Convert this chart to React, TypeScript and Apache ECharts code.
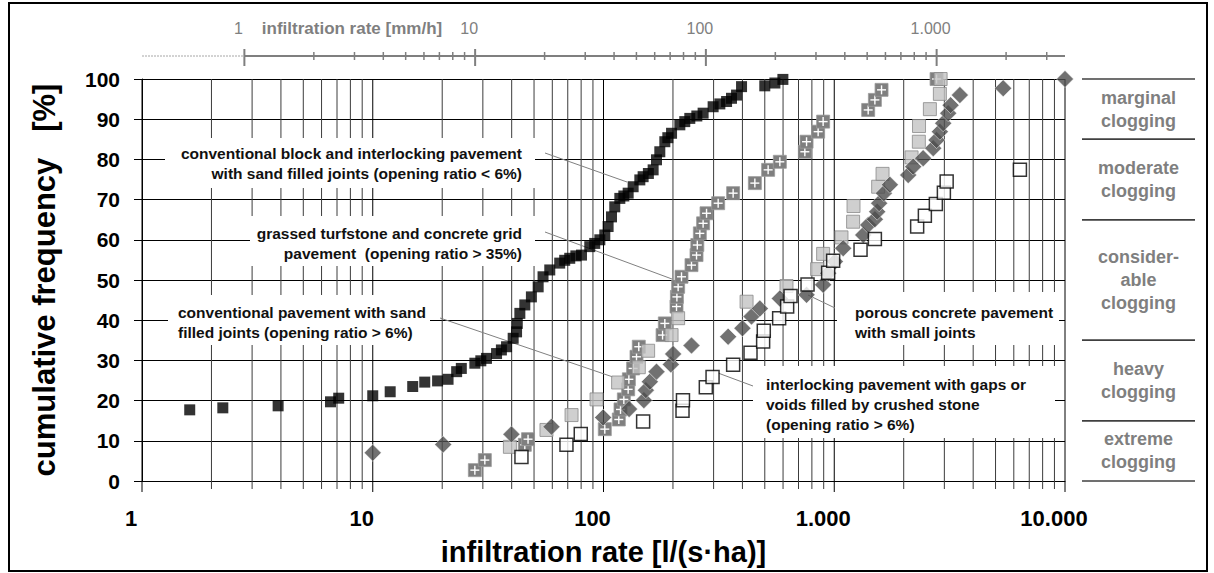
import React, { useEffect, useRef } from 'react';
import * as echarts from 'echarts';

// 1 mm/h expressed in l/(s·ha)
const MMH_FACTOR = 10000 / 3600;

// conventional block and interlocking pavement, sand filled joints (< 6 %)
const blockSandJoints: [number, number][] = [
  [1.61, 17.7], [2.24, 18.2], [3.89, 18.7], [6.56, 19.7], [7.12, 20.6], [10.0, 21.2],
  [11.9, 22.2], [14.9, 23.5], [16.8, 24.6], [19.1, 24.9], [21.2, 25.3], [23.1, 27.2],
  [24.2, 28.0], [27.7, 29.3], [29.4, 29.9], [31.1, 30.5], [34.4, 31.7], [36.1, 32.6],
  [38.0, 33.4], [40.6, 35.5], [42.0, 37.1], [42.3, 39.2], [43.4, 41.7], [45.6, 43.8],
  [48.7, 45.8], [52.1, 48.3], [54.7, 50.8], [58.5, 52.5], [64.6, 54.2], [67.9, 54.9],
  [71.4, 55.4], [75.9, 56.0], [80.3, 56.2], [87.2, 58.3], [91.6, 59.1], [96.4, 60.0],
  [101.3, 61.2], [104.7, 63.3], [108.3, 65.7], [111.9, 68.2], [117.7, 70.3], [122.5, 70.9],
  [127.9, 71.6], [134.4, 73.2], [143.7, 74.9], [148.5, 75.7], [156.5, 76.5], [164.1, 77.4],
  [169.7, 79.9], [175.4, 81.9], [184.4, 84.4], [190, 85.4], [197.2, 86.5], [214.2, 88.6],
  [225, 89.4], [236.6, 90.2], [253.8, 90.8], [270.2, 91.5], [298.6, 93.1], [319.3, 93.8],
  [341.5, 94.4], [358.7, 95.2], [377.2, 96.0], [396.5, 98.1], [500, 98.3], [553, 99.0],
  [599, 99.9],
];

// grassed turfstone and concrete grid pavement (> 35 %)
const grassedTurfstone: [number, number][] = [
  [27.7, 2.7], [30.6, 5.2], [45.6, 9.0], [47.1, 10.4], [101.3, 12.9], [116.5, 15.3],
  [118.5, 17.8], [122.5, 20.3], [127.9, 22.8], [128.8, 25.3], [134.4, 28.0], [139.0, 30.9],
  [142.2, 33.4], [180.3, 36.3], [184.4, 39.2], [207.2, 43.4], [208, 45.8], [210.6, 48.3],
  [217.8, 50.8], [240.6, 53.7], [253, 56.2], [255, 58.7], [261.5, 61.6], [270.2, 64.1],
  [279.6, 66.6], [314, 69.1], [364.6, 71.6], [452.8, 74.1], [517, 77.4], [581, 79.4],
  [745.7, 81.9], [758.5, 84.4], [851.5, 86.9], [895, 89.4], [1403, 92.3], [1500, 94.8],
  [1603, 97.3], [2776, 100],
];

// conventional pavement with sand filled joints (> 6 %)
const conventionalSandJoints: [number, number][] = [
  [39.3, 8.5], [56.6, 12.7], [72.7, 16.4], [93.3, 20.3], [115.7, 24.5], [142.2, 28.3],
  [156.1, 32.4], [197.2, 36.3], [210.6, 40.5], [416.9, 44.6], [621, 48.5], [843, 52.7],
  [895, 56.5], [1075, 60.6], [1207, 64.5], [1212, 68.4], [1550, 73.2], [1619, 76.4],
  [2163, 80.5], [2326, 84.4], [2330, 88.3], [2597, 92.5], [2869, 96.3], [2890, 100],
];

// porous concrete pavement with small joints
const porousConcrete: [number, number][] = [
  [10.0, 7.0], [20.2, 9.1], [39.9, 11.6], [59.5, 13.5], [99.6, 15.8], [129.1, 17.9],
  [149.6, 20.1], [152.6, 22.6], [158.8, 24.7], [169.7, 27.2], [195.8, 29.0], [200.3, 31.6],
  [240.6, 33.7], [346.8, 35.9], [400, 38.0], [437.9, 40.9], [475.9, 42.9], [581, 45.4],
  [758.5, 46.3], [895, 48.8], [941, 51.7], [1006, 54.6], [1093, 57.9], [1335, 61.2],
  [1403, 63.7], [1500, 65.1], [1535, 67.0], [1565, 69.1], [1641, 71.6], [1742, 73.7],
  [2091, 76.1], [2198, 78.2], [2428, 80.3], [2684, 82.8], [2776, 84.8], [2869, 86.9],
  [2965, 89.0], [3117, 91.5], [3193, 93.5], [3503, 96.0], [5397, 97.7], [10000, 100],
];

// interlocking pavement, gaps or voids filled by crushed stone (> 6 %)
const crushedStoneJoints: [number, number][] = [
  [44.1, 6.0], [69.1, 9.0], [79.7, 11.7], [148.5, 14.8], [220, 17.5], [221, 20.1],
  [277.6, 23.3], [296.9, 25.9], [364.6, 28.9], [433.6, 31.9], [491.8, 34.7], [495, 37.4],
  [577, 40.5], [625, 43.4], [646.6, 46.0], [766, 48.9], [941, 51.8], [989, 54.8],
  [1300, 57.5], [1500, 60.2], [2287, 63.3], [2470, 66.0], [2756, 68.9], [2986, 71.7],
  [3070, 74.5], [6376, 77.4],
];

// vertical grid lines of the logarithmic l/(s·ha) axis
const GRID_X = [
  1, 2, 3, 4, 5, 6, 7, 8, 9,
  10, 20, 30, 40, 50, 60, 70, 80, 90,
  100, 200, 300, 400, 500, 600, 700, 800, 900,
  1000, 2000, 3000, 4000, 5000, 6000, 7000, 8000, 9000,
  10000,
];

// secondary scale in mm/h
const MMH_TICKS = [
  1, 2, 3, 4, 5, 6, 7, 8, 9,
  10, 20, 30, 40, 50, 60, 70, 80, 90,
  100, 200, 300, 400, 500, 600, 700, 800, 900,
  1000, 2000, 3000,
];
const MMH_LABELS = [1, 10, 100, 1000];

// clogging classes on the cumulative frequency scale
const CLOGGING_FROM = [85, 65, 35, 15, 0];
const CLOGGING_TO = [100, 85, 65, 35, 15];
const CLOGGING_NAMES = [
  'marginal\nclogging',
  'moderate\nclogging',
  'consider-\nable\nclogging',
  'heavy\nclogging',
  'extreme\nclogging',
];

const FONT = "'Liberation Sans', Arial, Helvetica, sans-serif";

// callout boxes with leader lines
const ANNOTATIONS = [
  {
    text: 'conventional block and interlocking pavement\nwith sand filled joints (opening ratio < 6%)',
    box: [165, 138, 370, 50], tx: 522, ty: 163, align: 'right', line: [545, 153, 627, 182],
  },
  {
    text: 'grassed turfstone and concrete grid\npavement  (opening ratio > 35%)',
    box: [250, 216, 285, 50], tx: 522, ty: 243, align: 'right', line: [545, 232, 672, 279],
  },
  {
    text: 'conventional pavement with sand\nfilled joints (opening ratio > 6%)',
    box: [168, 295, 262, 50], tx: 178, ty: 322, align: 'left', line: [440, 318, 613, 377],
  },
  {
    text: 'porous concrete pavement\nwith small joints',
    box: [837, 292, 222, 53], tx: 855, ty: 322, align: 'left', line: [835, 308, 808, 295],
  },
  {
    text: 'interlocking pavement with gaps or\nvoids filled by crushed stone\n(opening ratio > 6%)',
    box: [753, 366, 302, 72], tx: 766, ty: 404, align: 'left', line: [753, 386, 718, 373],
  },
];

const fmt = (v: number) => String(Math.round(v)).replace(/\B(?=(\d{3})+(?!\d))/g, '.');
const isDecade = (v: number) => Math.abs(Math.log10(v) - Math.round(Math.log10(v))) < 1e-9;

export default function App() {
  const ref = useRef<HTMLDivElement>(null);

  useEffect(() => {
    const chart = echarts.init(ref.current!, null, { renderer: 'svg' });

    const graphics: any[] = [
      {
        type: 'rect', z: 0, silent: true,
        shape: { x: 9, y: 3, width: 1198, height: 568 },
        style: { fill: 'none', stroke: '#000', lineWidth: 2 },
      },
      {
        type: 'text', z: 2, silent: true,
        style: {
          text: 'infiltration rate [mm/h]', x: 352, y: 28, align: 'center', verticalAlign: 'middle',
          fill: '#7f7f7f', font: `bold 17px ${FONT}`,
        },
      },
    ];
    ANNOTATIONS.forEach((a) => {
      graphics.push({
        type: 'line', z: 2, silent: true,
        shape: { x1: a.line[0], y1: a.line[1], x2: a.line[2], y2: a.line[3] },
        style: { stroke: '#808080', lineWidth: 1 },
      });
      graphics.push({
        type: 'rect', z: 2, silent: true,
        shape: { x: a.box[0], y: a.box[1], width: a.box[2], height: a.box[3] },
        style: { fill: '#fff' },
      });
      graphics.push({
        type: 'text', z: 3, silent: true,
        style: {
          text: a.text, x: a.tx, y: a.ty, align: a.align, verticalAlign: 'middle',
          fill: '#111', font: `bold 15.5px ${FONT}`, lineHeight: 20,
        },
      });
    });

    const option: any = {
      animation: false,
      backgroundColor: '#fff',
      textStyle: { fontFamily: FONT },
      grid: { left: 142, right: 149, top: 79, bottom: 92, containLabel: false },
      xAxis: {
        type: 'log', logBase: 10, min: 1, max: 10000,
        axisLine: { show: true, lineStyle: { color: '#000', width: 1 } },
        axisTick: { show: false },
        splitLine: { show: false },
        axisLabel: {
          formatter: (v: number) => fmt(v), fontSize: 22, fontWeight: 'bold', color: '#000',
          fontFamily: FONT, margin: 26, padding: [0, 22, 0, 0],
        },
        name: 'infiltration rate [l/(s·ha)]', nameLocation: 'middle', nameGap: 56,
        nameTextStyle: { fontSize: 29, fontWeight: 'bold', color: '#000', fontFamily: FONT },
      },
      yAxis: {
        type: 'value', min: 0, max: 100, interval: 10,
        axisLine: { show: true, lineStyle: { color: '#000', width: 1 } },
        axisTick: { show: true, length: 8, lineStyle: { color: '#000' } },
        splitLine: { show: true, lineStyle: { color: '#000', width: 1 } },
        axisLabel: { fontSize: 21, fontWeight: 'bold', color: '#000', margin: 22, fontFamily: FONT },
        name: 'cumulative frequency   [%]', nameLocation: 'middle', nameGap: 82, nameRotate: 90,
        nameTextStyle: { fontSize: 31, fontWeight: 'bold', color: '#000', fontFamily: FONT },
      },
      graphic: graphics,
      series: [
        {
          // vertical grid lines with ticks below the axis
          type: 'custom', silent: true, z: 1, clip: false,
          data: GRID_X.map((v) => [v, 0]),
          renderItem: (_p: any, api: any) => {
            const v = api.value(0);
            const top = api.coord([v, 100]);
            const bot = api.coord([v, 0]);
            const major = isDecade(v);
            return {
              type: 'line',
              shape: { x1: top[0], y1: top[1], x2: bot[0], y2: bot[1] + (major ? 11 : 8) },
              style: { stroke: major ? '#000' : '#3c3c3c', lineWidth: 1 },
            };
          },
        },
        {
          // secondary mm/h scale above the plot
          type: 'custom', silent: true, z: 1, clip: false,
          data: MMH_TICKS.map((v) => [v * MMH_FACTOR, 100]),
          renderItem: (params: any, api: any) => {
            const mm = MMH_TICKS[params.dataIndex];
            const p = api.coord([api.value(0), 100]);
            const ay = p[1] - 23;
            const major = MMH_LABELS.includes(mm);
            const children: any[] = [];
            if (params.dataIndex === 0) {
              const start = api.coord([1, 100])[0];
              const end = api.coord([10000, 100])[0];
              children.push({
                type: 'line', shape: { x1: start, y1: ay, x2: p[0], y2: ay },
                style: { stroke: '#a6a6a6', lineWidth: 1, lineDash: [2, 1] },
              });
              children.push({
                type: 'line', shape: { x1: p[0], y1: ay, x2: end, y2: ay },
                style: { stroke: '#7f7f7f', lineWidth: 2 },
              });
            }
            children.push({
              type: 'line',
              shape: { x1: p[0], y1: ay - (major ? 7 : 4), x2: p[0], y2: ay + (major ? 10 : 4) },
              style: { stroke: '#7f7f7f', lineWidth: major ? 2 : 1.5 },
            });
            if (major) {
              children.push({
                type: 'text',
                style: {
                  text: fmt(mm), x: p[0] - 6, y: ay - 28, align: 'center', verticalAlign: 'middle',
                  fill: '#808080', font: `16px ${FONT}`,
                },
              });
            }
            return { type: 'group', children };
          },
        },
        {
          // clogging classes at the right margin
          type: 'custom', silent: true, z: 1, clip: false,
          data: CLOGGING_FROM.map((f, i) => [10000, f, CLOGGING_TO[i]]),
          renderItem: (params: any, api: any) => {
            const i = params.dataIndex;
            const top = api.coord([10000, CLOGGING_TO[i]]);
            const bot = api.coord([10000, CLOGGING_FROM[i]]);
            const x1 = top[0] + 17;
            const x2 = top[0] + 130;
            return {
              type: 'group',
              children: [
                { type: 'line', shape: { x1, y1: top[1], x2, y2: top[1] }, style: { stroke: '#404040', lineWidth: 1.5 } },
                { type: 'line', shape: { x1, y1: bot[1], x2, y2: bot[1] }, style: { stroke: '#404040', lineWidth: 1.5 } },
                {
                  type: 'text',
                  style: {
                    text: CLOGGING_NAMES[i], x: (x1 + x2) / 2, y: (top[1] + bot[1]) / 2,
                    align: 'center', verticalAlign: 'middle', fill: '#7f7f7f',
                    font: `bold 18px ${FONT}`, lineHeight: 23,
                  },
                },
              ],
            };
          },
        },
        {
          name: 'conventional block and interlocking pavement (< 6%)',
          type: 'scatter', z: 3, symbol: 'rect', symbolSize: 11,
          itemStyle: { color: '#000' },
          data: blockSandJoints,
        },
        {
          name: 'grassed turfstone and concrete grid pavement',
          type: 'custom', z: 4,
          data: grassedTurfstone,
          renderItem: (_p: any, api: any) => {
            const c = api.coord([api.value(0), api.value(1)]);
            const h = 6.5;
            return {
              type: 'group',
              children: [
                { type: 'rect', shape: { x: c[0] - h, y: c[1] - h, width: 2 * h, height: 2 * h }, style: { fill: '#7f7f7f', stroke: '#9a9a9a', lineWidth: 0.8 } },
                { type: 'line', shape: { x1: c[0] - 4.5, y1: c[1], x2: c[0] + 4.5, y2: c[1] }, style: { stroke: '#fff', lineWidth: 1.4 } },
                { type: 'line', shape: { x1: c[0], y1: c[1] - 4.5, x2: c[0], y2: c[1] + 4.5 }, style: { stroke: '#fff', lineWidth: 1.4 } },
              ],
            };
          },
        },
        {
          name: 'conventional pavement with sand filled joints (> 6%)',
          type: 'scatter', z: 5, symbol: 'rect', symbolSize: 13,
          itemStyle: { color: '#c3c3c3', borderColor: '#8a8a8a', borderWidth: 1 },
          data: conventionalSandJoints,
        },
        {
          name: 'porous concrete pavement with small joints',
          type: 'scatter', z: 6, symbol: 'diamond', symbolSize: 17,
          itemStyle: { color: '#4d4d4d', borderColor: '#fff', borderWidth: 0.6 },
          data: porousConcrete,
        },
        {
          name: 'interlocking pavement filled by crushed stone',
          type: 'scatter', z: 7, symbol: 'rect', symbolSize: 13,
          itemStyle: { color: '#fff', borderColor: '#000', borderWidth: 1.5 },
          data: crushedStoneJoints,
        },
      ],
    };

    chart.setOption(option);
    return () => chart.dispose();
  }, []);

  return (
    <div
      ref={ref}
      style={{ position: 'absolute', left: 0, top: 0, width: 1214, height: 573, background: '#fff' }}
    />
  );
}
